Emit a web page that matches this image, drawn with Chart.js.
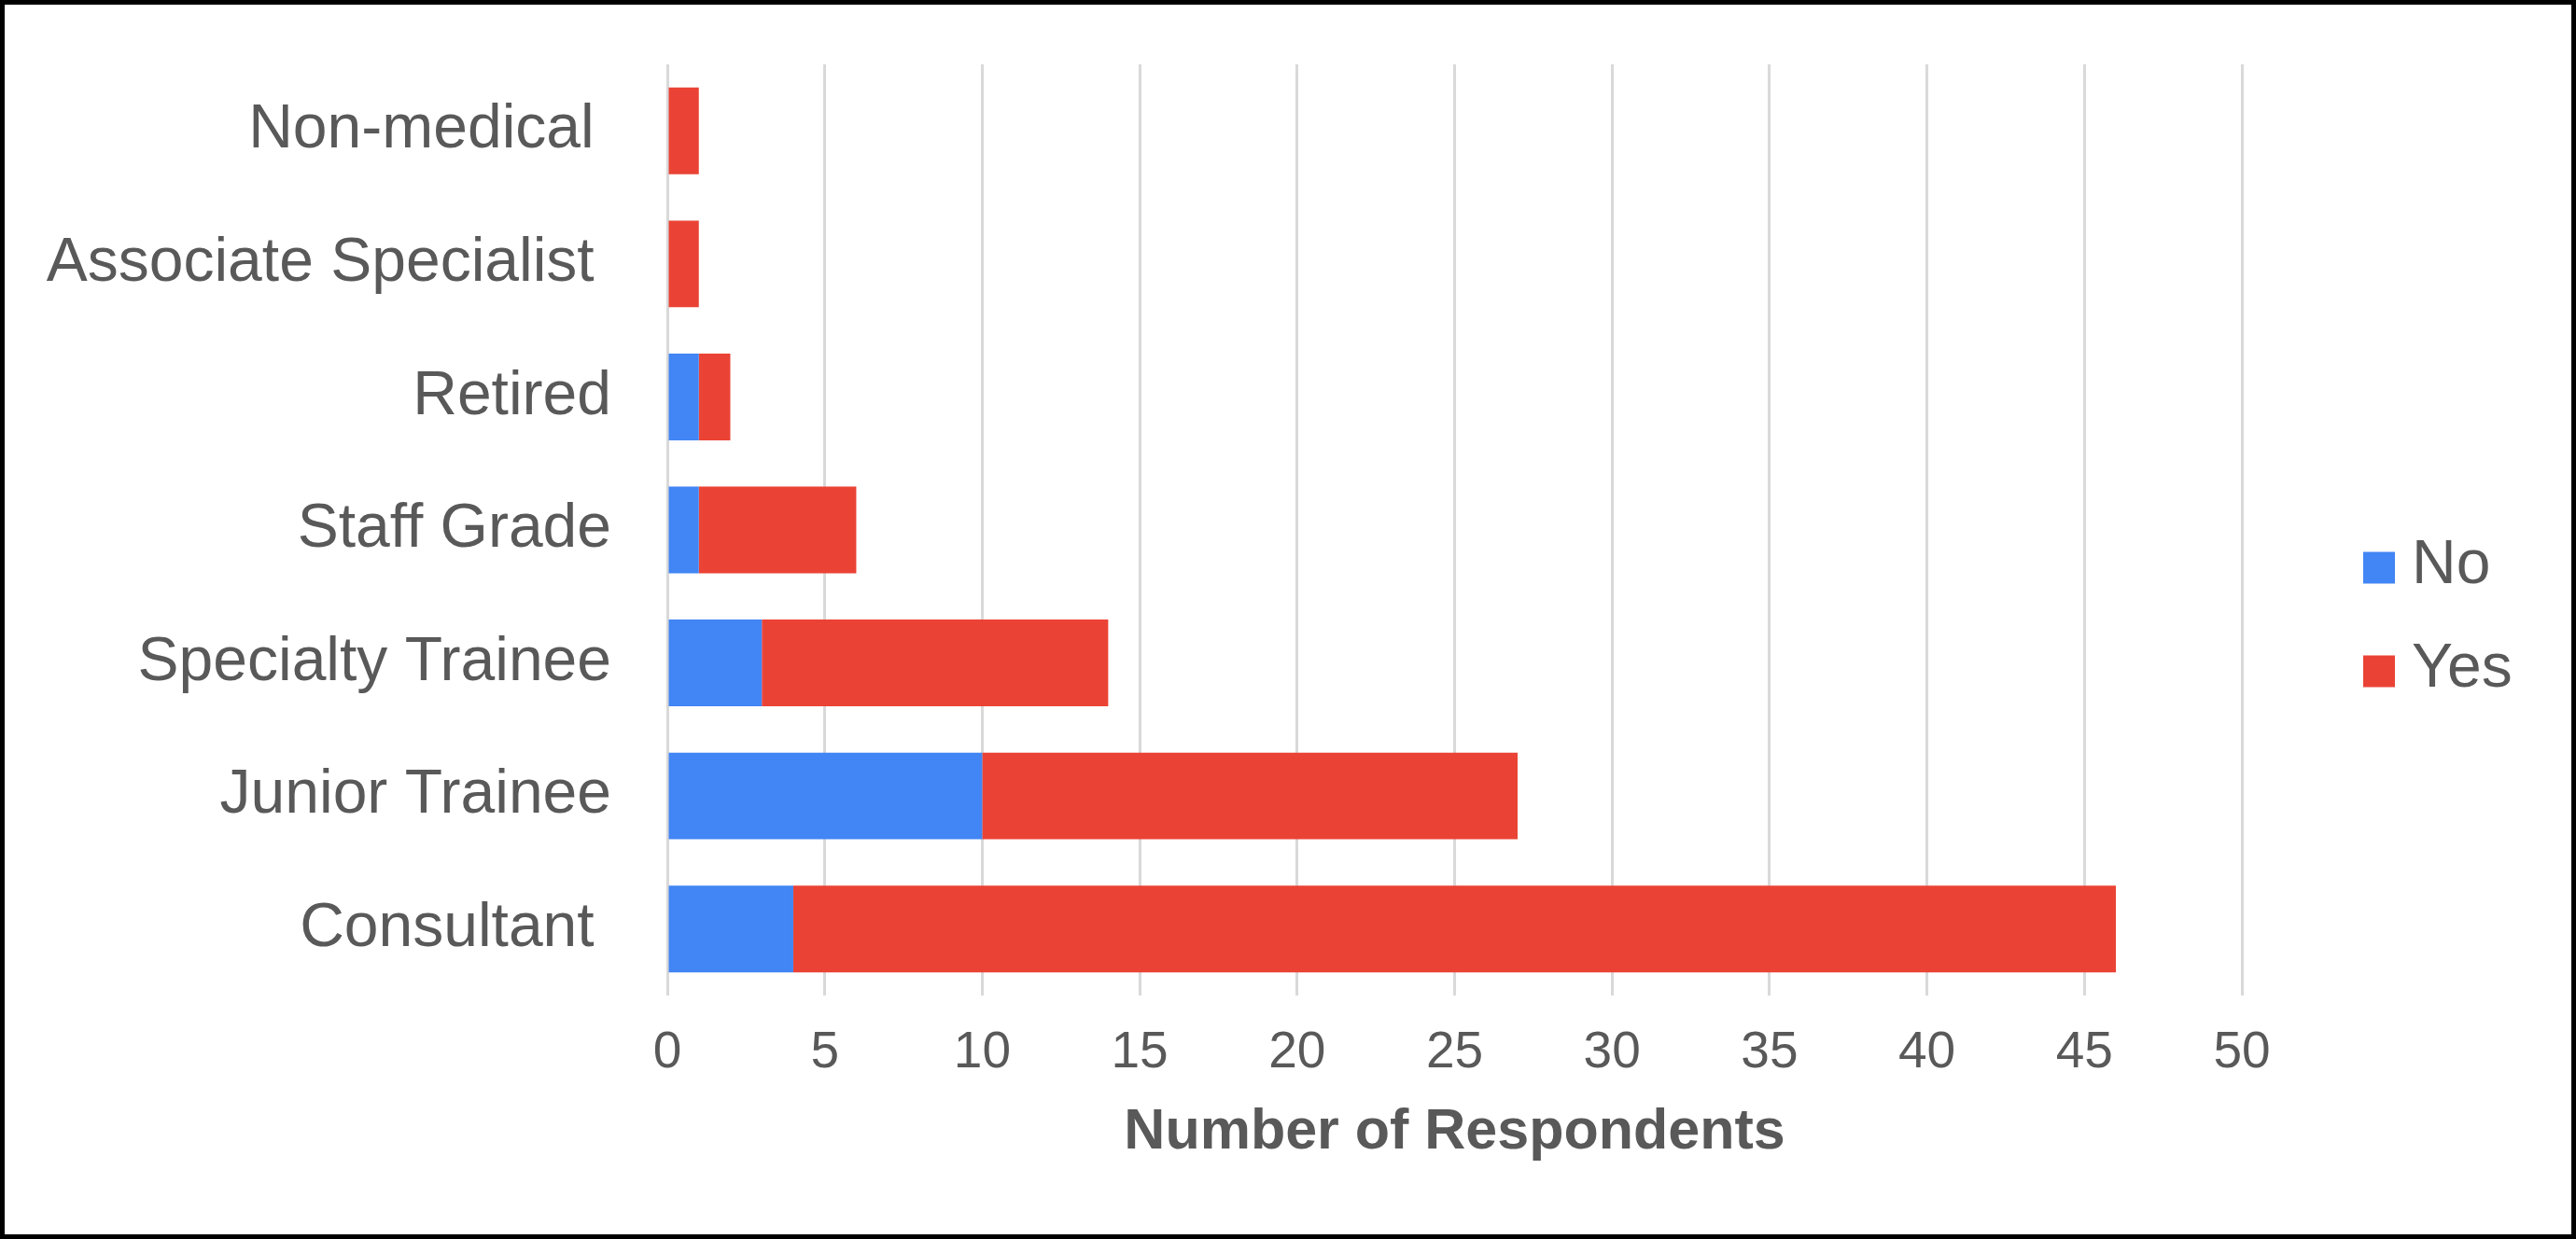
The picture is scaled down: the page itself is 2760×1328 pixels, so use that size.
<!DOCTYPE html>
<html>
<head>
<meta charset="utf-8">
<script src="https://cdn.jsdelivr.net/npm/chart.js@4/dist/chart.umd.min.js"></script>
<style>
  html, body { margin: 0; padding: 0; background: #ffffff; }
  #frame {
    position: absolute; left: 0; top: 0;
    width: 2760px; height: 1328px;
    box-sizing: border-box;
    border: 5px solid #000000;
    background: #ffffff;
  }
  #chart { display: block; width: 2750px; height: 1318px; }
</style>
</head>
<body>
<div id="frame"><canvas id="chart" width="2750" height="1318"></canvas></div>
<script>
// ---- data ----
const categories = ["Non-medical ", "Associate Specialist ", "Retired", "Staff Grade", "Specialty Trainee", "Junior Trainee", "Consultant "];
const seriesNames = ["No", "Yes"];
const noValues  = [0, 0, 1, 1, 3, 10, 4];
const yesValues = [1, 1, 1, 5, 11, 17, 42];
const xMin = 0, xMax = 50, xStep = 5;
const xTitle = "Number of Respondents";

// ---- styles ----
const colNo = "#4285F4";
const colYes = "#EA4335";
const textCol = "#595959";
const gridCol = "#D9D9D9";
const FONT = "'Liberation Sans', Arial, Helvetica, sans-serif";

const sideLegend = {
  id: 'sideLegend',
  afterDraw(chart) {
    const ctx = chart.ctx;
    const area = chart.chartArea;
    const boxX = area.right + 130;
    const box = 34;
    const gap = 111;
    const ds = chart.data.datasets;
    const midY = chart.height / 2;
    ctx.save();
    ctx.font = "66px " + FONT;
    ctx.textBaseline = 'middle';
    ctx.textAlign = 'left';
    ds.forEach((d, i) => {
      const cy = midY + (i - (ds.length - 1) / 2) * gap;
      ctx.fillStyle = d.backgroundColor;
      ctx.fillRect(boxX, cy - box / 2, box, box);
      ctx.fillStyle = textCol;
      ctx.fillText(d.label, boxX + box + 18, cy - 2);
    });
    ctx.restore();
  }
};

new Chart(document.getElementById('chart'), {
  type: 'bar',
  data: {
    labels: categories,
    datasets: [
      { label: seriesNames[0], data: noValues, backgroundColor: colNo, borderWidth: 0,
        categoryPercentage: 1, barPercentage: 0.652 },
      { label: seriesNames[1], data: yesValues, backgroundColor: colYes, borderWidth: 0,
        categoryPercentage: 1, barPercentage: 0.652 }
    ]
  },
  options: {
    indexAxis: 'y',
    responsive: false,
    animation: false,
    devicePixelRatio: 1,
    layout: { padding: { left: 0, top: 64, right: 353, bottom: 72.4 } },
    plugins: {
      legend: { display: false },
      tooltip: { enabled: false },
      title: { display: false }
    },
    scales: {
      x: {
        type: 'linear',
        stacked: true,
        min: xMin, max: xMax,
        ticks: { stepSize: xStep, color: textCol, padding: 29, font: { family: FONT, size: 55 } },
        grid: { color: gridCol, lineWidth: 3, drawTicks: false },
        border: { display: false },
        title: { display: true, text: xTitle, color: textCol, padding: { top: 0, bottom: 0 },
                 font: { family: FONT, size: 61, weight: 'bold' } },
        afterFit(scale) { scale.height = 183.6; scale.paddingLeft = 0; scale.paddingRight = 0; }
      },
      y: {
        type: 'category',
        stacked: true,
        ticks: { color: textCol, padding: 60, font: { family: FONT, size: 66 } },
        grid: { display: false, drawTicks: false },
        border: { display: false },
        afterFit(scale) { scale.width = 710; scale.paddingTop = 0; scale.paddingBottom = 0; }
      }
    }
  },
  plugins: [sideLegend]
});
</script>
</body>
</html>
